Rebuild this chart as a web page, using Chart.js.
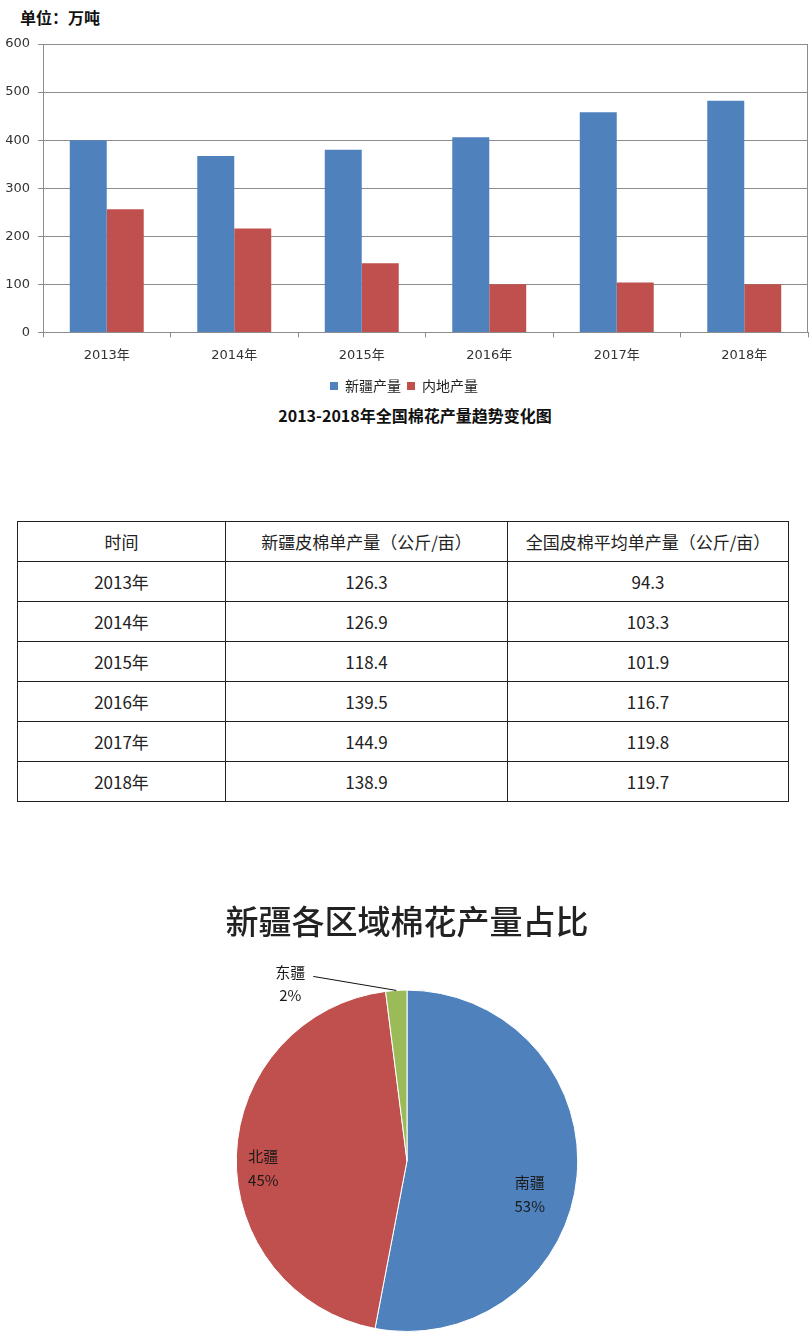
<!DOCTYPE html>
<html lang="zh">
<head>
<meta charset="utf-8">
<script src="https://cdn.jsdelivr.net/npm/chart.js@4.4.0/dist/chart.umd.min.js"></script>
<style>
  body { margin: 0; background: #fff; width: 812px; height: 1341px; position: relative; overflow: hidden; font-family: "Noto Sans CJK SC", sans-serif; }
  .unit { position: absolute; left: 20px; top: 7px; line-height: 20px; font-size: 16px; font-weight: bold; color: #111; }
  #bar-wrap { position: absolute; left: 0; top: 0; width: 812px; height: 403px; }
  .bar-title { position: absolute; top: 405px; left: 0; width: 830px; line-height: 20px; text-align: center; font-size: 16px; font-weight: bold; color: #111; }
  table { position: absolute; left: 17px; top: 521px; width: 771px; border-collapse: collapse; table-layout: fixed; }
  td { border: 1px solid #222; height: 39px; padding: 0; text-align: center; font-size: 17px; color: #222; }
  #pie-wrap { position: absolute; left: 0; top: 880px; width: 812px; height: 461px; }
</style>
</head>
<body>
<div class="unit">单位：万吨</div>
<div id="bar-wrap"><canvas id="bar-chart"></canvas></div>
<div class="bar-title">2013-2018年全国棉花产量趋势变化图</div>
<table id="yield-table">
  <colgroup><col style="width:208px"><col style="width:282px"><col style="width:281px"></colgroup>
</table>
<div id="pie-wrap"><canvas id="pie-chart"></canvas></div>

<script>
// Cotton output, 10k tonnes
const years = ['2013年', '2014年', '2015年', '2016年', '2017年', '2018年'];
const xinjiangOutput = [400, 367, 380, 406, 458, 482];
const inlandOutput = [256, 216, 144, 100, 104, 100];

// Lint yield table, kg per mu
const tableHeader = ['时间', '新疆皮棉单产量（公斤/亩）', '全国皮棉平均单产量（公斤/亩）'];
const xinjiangYield = ['126.3', '126.9', '118.4', '139.5', '144.9', '138.9'];
const nationalYield = ['94.3', '103.3', '101.9', '116.7', '119.8', '119.7'];

// Regional share inside Xinjiang
const regions = ['南疆', '北疆', '东疆'];
const regionShares = [53, 45, 2];

const blue = '#4F81BD';
const red = '#C0504D';
const green = '#9BBB59';
const gridGray = '#8c8c8c';

Chart.defaults.font.family = '"DejaVu Sans", "Noto Sans CJK SC", sans-serif';
Chart.defaults.color = '#333';

// Bar chart
const rightEdge = {
    id: 'rightEdge',
    afterDraw(chart) {
        const { ctx, chartArea } = chart;
        ctx.save();
        ctx.strokeStyle = gridGray;
        ctx.lineWidth = 1;
        ctx.beginPath();
        ctx.moveTo(chartArea.right - 0.5, chartArea.top);
        ctx.lineTo(chartArea.right - 0.5, chartArea.bottom);
        ctx.stroke();
        ctx.restore();
    }
};

new Chart(document.getElementById('bar-chart'), {
    type: 'bar',
    data: {
        labels: years,
        datasets: [
            { label: '新疆产量', data: xinjiangOutput, backgroundColor: blue },
            { label: '内地产量', data: inlandOutput, backgroundColor: red }
        ]
    },
    options: {
        responsive: true,
        maintainAspectRatio: false,
        animation: false,
        layout: { padding: { top: 44, right: 4, bottom: 0, left: 0 } },
        datasets: { bar: { categoryPercentage: 0.58, barPercentage: 1.0 } },
        scales: {
            x: {
                grid: { offset: true, drawOnChartArea: false, color: gridGray, tickLength: 5 },
                border: { color: gridGray },
                ticks: { padding: 10, font: { size: 13 }, color: '#333' }
            },
            y: {
                min: 0,
                max: 600,
                ticks: { stepSize: 100, padding: 8, font: { size: 13 }, color: '#333' },
                grid: { color: gridGray, tickLength: 5 },
                border: { color: gridGray },
                afterFit(scale) { scale.width = 43; }
            }
        },
        plugins: {
            legend: {
                position: 'bottom',
                labels: {
                    boxWidth: 8,
                    boxHeight: 8,
                    padding: 6,
                    font: { size: 14, family: '"Noto Sans CJK SC", sans-serif' },
                    color: '#222'
                }
            },
            tooltip: { enabled: false }
        }
    },
    plugins: [rightEdge]
});

// Table
const table = document.getElementById('yield-table');
const headRow = table.insertRow();
tableHeader.forEach(h => { headRow.insertCell().textContent = h; });
years.forEach((y, i) => {
    const row = table.insertRow();
    row.insertCell().textContent = y;
    row.insertCell().textContent = xinjiangYield[i];
    row.insertCell().textContent = nationalYield[i];
});

// Pie chart
const labelSpots = [
    { r: 0.746, turn: 10 },   // 南疆
    { r: 0.843, turn: -4.8 }  // 北疆
];

const pieLabels = {
    id: 'pieLabels',
    afterDatasetsDraw(chart) {
        const ctx = chart.ctx;
        const arcs = chart.getDatasetMeta(0).data;
        ctx.save();
        ctx.font = '15px "Noto Sans CJK SC", sans-serif';
        ctx.fillStyle = '#1a1a1a';
        ctx.textAlign = 'center';
        ctx.textBaseline = 'middle';
        arcs.forEach((arc, i) => {
            const { x, y, startAngle, endAngle, outerRadius } =
                arc.getProps(['x', 'y', 'startAngle', 'endAngle', 'outerRadius'], true);
            const mid = (startAngle + endAngle) / 2;
            if (labelSpots[i]) {
                const a = mid + labelSpots[i].turn * Math.PI / 180;
                const lx = x + Math.cos(a) * outerRadius * labelSpots[i].r;
                const ly = y + Math.sin(a) * outerRadius * labelSpots[i].r;
                ctx.fillText(regions[i], lx, ly - 12);
                ctx.fillText(regionShares[i] + '%', lx, ly + 12);
            } else {
                // small slice: label outside with a leader line
                const ex = x + Math.cos(mid) * outerRadius;
                const ey = y + Math.sin(mid) * outerRadius;
                ctx.strokeStyle = '#111';
                ctx.lineWidth = 1;
                ctx.beginPath();
                ctx.moveTo(ex, ey);
                ctx.lineTo(ex - 83, ey - 14);
                ctx.stroke();
                ctx.fillText(regions[i], ex - 106, ey - 18);
                ctx.fillText(regionShares[i] + '%', ex - 106, ey + 5);
            }
        });
        ctx.restore();
    }
};

new Chart(document.getElementById('pie-chart'), {
    type: 'pie',
    data: {
        labels: regions,
        datasets: [{
            data: regionShares,
            backgroundColor: [blue, red, green],
            borderColor: '#fff',
            borderWidth: 1
        }]
    },
    options: {
        responsive: true,
        maintainAspectRatio: false,
        animation: false,
        layout: { padding: { top: 0, right: 0, bottom: 9, left: 2 } },
        plugins: {
            legend: { display: false },
            tooltip: { enabled: false },
            title: {
                display: true,
                text: '新疆各区域棉花产量占比',
                color: '#222',
                font: { size: 33, weight: 500, family: '"Noto Sans CJK SC", sans-serif' },
                padding: { top: 22, bottom: 48 }
            }
        }
    },
    plugins: [pieLabels]
});
</script>
</body>
</html>
